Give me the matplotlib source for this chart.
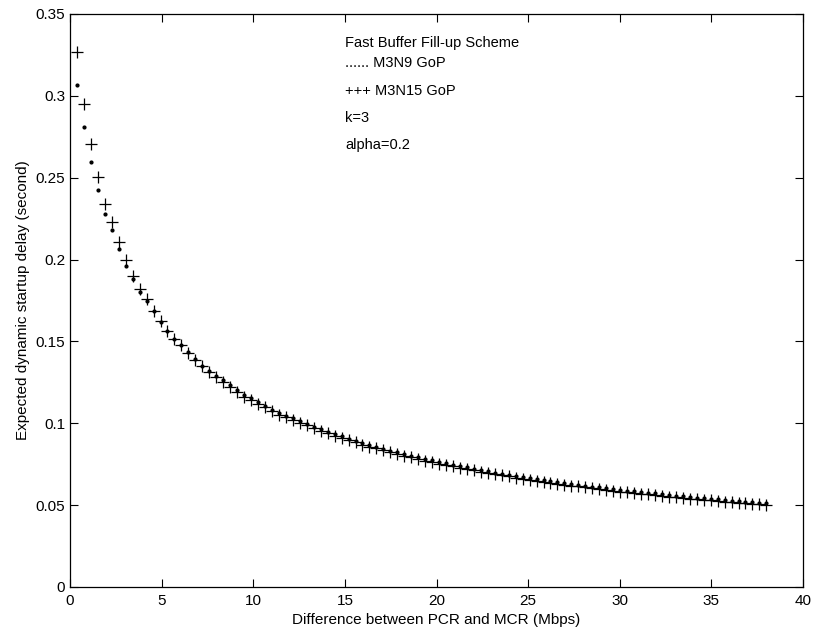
import matplotlib
matplotlib.use("Agg")
import matplotlib.pyplot as plt
import numpy as np

plt.rcParams['font.family'] = ['Liberation Sans', 'DejaVu Sans']

# x step between points (Mbps), 100 points from 0.38 to 38
step = 0.38
n_points = 100

# M3N15 GoP (+ markers)
m3n15 = [0.3266, 0.2953, 0.2704, 0.2506, 0.2341, 0.2232, 0.2108, 0.1999, 0.1898, 0.1820,
         0.1759, 0.1688, 0.1622, 0.1566, 0.1512, 0.1475, 0.1432, 0.1388, 0.1347, 0.1316,
         0.1282, 0.1255, 0.1221, 0.1194, 0.1163, 0.1143, 0.1119, 0.1098, 0.1072, 0.1051,
         0.1037, 0.1021, 0.1004, 0.0987, 0.0970, 0.0954, 0.0939, 0.0924, 0.0910, 0.0896,
         0.0883, 0.0870, 0.0858, 0.0846, 0.0834, 0.0823, 0.0812, 0.0802, 0.0791, 0.0782,
         0.0772, 0.0763, 0.0754, 0.0745, 0.0736, 0.0728, 0.0720, 0.0712, 0.0704, 0.0696,
         0.0689, 0.0682, 0.0675, 0.0668, 0.0662, 0.0655, 0.0649, 0.0643, 0.0637, 0.0631,
         0.0625, 0.0619, 0.0614, 0.0609, 0.0603, 0.0598, 0.0593, 0.0588, 0.0583, 0.0579,
         0.0574, 0.0570, 0.0565, 0.0561, 0.0556, 0.0552, 0.0548, 0.0544, 0.0540, 0.0536,
         0.0533, 0.0529, 0.0525, 0.0521, 0.0518, 0.0514, 0.0511, 0.0508, 0.0504, 0.0501]

# M3N9 GoP (dots)
m3n9 = [0.3068, 0.2808, 0.2596, 0.2423, 0.2278, 0.2178, 0.2066, 0.1962, 0.1881, 0.1800,
        0.1744, 0.1683, 0.1620, 0.1566, 0.1513, 0.1477, 0.1434, 0.1390, 0.1350, 0.1319,
        0.1286, 0.1265, 0.1231, 0.1204, 0.1173, 0.1153, 0.1129, 0.1108, 0.1082, 0.1061,
        0.1047, 0.1031, 0.1014, 0.0997, 0.0980, 0.0964, 0.0949, 0.0934, 0.0920, 0.0906,
        0.0893, 0.0880, 0.0868, 0.0856, 0.0844, 0.0833, 0.0822, 0.0812, 0.0801, 0.0792,
        0.0782, 0.0773, 0.0764, 0.0755, 0.0746, 0.0738, 0.0730, 0.0722, 0.0714, 0.0706,
        0.0699, 0.0692, 0.0685, 0.0678, 0.0672, 0.0665, 0.0659, 0.0653, 0.0647, 0.0641,
        0.0635, 0.0629, 0.0624, 0.0619, 0.0613, 0.0608, 0.0603, 0.0598, 0.0593, 0.0589,
        0.0584, 0.0580, 0.0575, 0.0571, 0.0566, 0.0562, 0.0558, 0.0554, 0.0550, 0.0546,
        0.0543, 0.0539, 0.0535, 0.0531, 0.0528, 0.0524, 0.0521, 0.0518, 0.0514, 0.0511]

xticks = [0, 5, 10, 15, 20, 25, 30, 35, 40]
yticks = [0, 0.05, 0.1, 0.15, 0.2, 0.25, 0.3, 0.35]
ytick_labels = ['0', '0.05', '0.1', '0.15', '0.2', '0.25', '0.3', '0.35']

notes = ['Fast Buffer Fill-up Scheme', '...... M3N9 GoP', '+++ M3N15 GoP', 'k=3', 'alpha=0.2']
note_y = [0.3325, 0.3203, 0.3032, 0.2867, 0.2702]

x = step * np.arange(1, n_points + 1)

fig = plt.figure(figsize=(8.14, 6.30), dpi=100)
ax = fig.add_axes([0.086, 0.0683, 0.9005, 0.9095])

ax.plot(x, m3n9, linestyle='none', marker='o', markersize=2.0, color='black')
ax.plot(x, m3n15, linestyle='none', marker='+', markersize=8, markeredgewidth=0.9, color='black')

for txt, ty in zip(notes, note_y):
    ax.text(15.0, ty, txt, fontsize=10.5, va='center', ha='left')

ax.set_xlim(0, 40)
ax.set_ylim(0, 0.35)
ax.set_xticks(xticks)
ax.set_xticklabels([str(t) for t in xticks])
ax.set_yticks(yticks)
ax.set_yticklabels(ytick_labels)
ax.tick_params(direction='in', top=True, right=True, length=6, width=0.8, labelsize=11)
ax.tick_params(axis='x', pad=5)
for s in ax.spines.values():
    s.set_linewidth(0.9)

ax.set_xlabel('Difference between PCR and MCR (Mbps)', fontsize=11, labelpad=4)
ax.set_ylabel('Expected dynamic startup delay (second)', fontsize=11, labelpad=4)

fig.savefig('out.png', dpi=100)
